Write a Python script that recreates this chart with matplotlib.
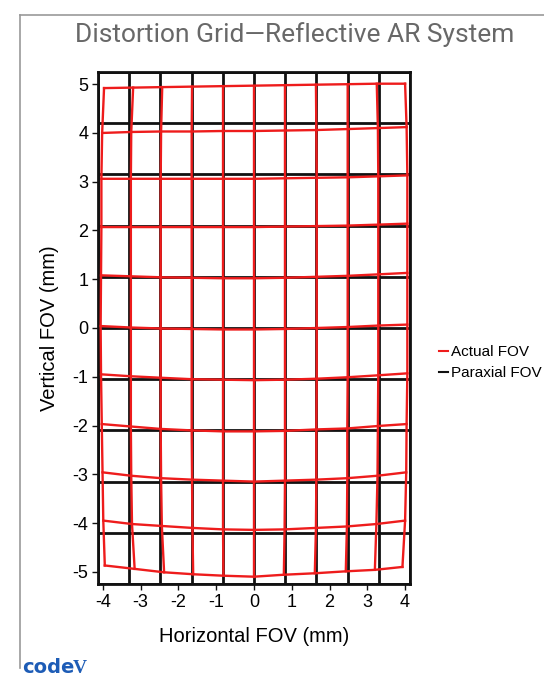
import numpy as np
import matplotlib.pyplot as plt
from matplotlib.lines import Line2D

# paraxial (ideal) grid positions, mm
paraxial_x = [-4.13, -3.30, -2.48, -1.65, -0.83, 0.0, 0.83, 1.65, 2.48, 3.30, 4.13]
paraxial_y = [5.25, 4.20, 3.15, 2.10, 1.05, 0.0, -1.05, -2.10, -3.15, -4.20, -5.25]

# actual (distorted) grid, rows from top to bottom, columns from left to right
actual_x = [
    [-3.97, -3.20, -2.43, -1.64, -0.82, 0.0, 0.82, 1.64, 2.48, 3.25, 4.00],
    [-4.02, -3.25, -2.46, -1.65, -0.82, 0.0, 0.82, 1.65, 2.48, 3.28, 4.04],
    [-4.04, -3.26, -2.47, -1.65, -0.82, 0.0, 0.82, 1.66, 2.48, 3.29, 4.06],
    [-4.04, -3.26, -2.47, -1.65, -0.82, 0.0, 0.82, 1.66, 2.48, 3.29, 4.06],
    [-4.05, -3.26, -2.47, -1.65, -0.82, 0.0, 0.82, 1.66, 2.48, 3.29, 4.06],
    [-4.06, -3.26, -2.47, -1.65, -0.82, 0.0, 0.82, 1.66, 2.48, 3.29, 4.06],
    [-4.05, -3.26, -2.47, -1.65, -0.82, 0.0, 0.82, 1.66, 2.48, 3.29, 4.06],
    [-4.03, -3.26, -2.47, -1.65, -0.82, 0.0, 0.82, 1.65, 2.47, 3.28, 4.04],
    [-4.01, -3.25, -2.46, -1.64, -0.82, 0.0, 0.82, 1.65, 2.47, 3.27, 4.03],
    [-3.99, -3.23, -2.44, -1.63, -0.82, 0.0, 0.81, 1.64, 2.46, 3.24, 4.00],
    [-3.95, -3.16, -2.38, -1.61, -0.81, 0.0, 0.79, 1.61, 2.43, 3.20, 3.93],
]
actual_y = [
    [4.92, 4.93, 4.94, 4.95, 4.96, 4.97, 4.98, 4.99, 5.00, 5.01, 5.01],
    [4.00, 4.02, 4.03, 4.03, 4.04, 4.04, 4.05, 4.06, 4.08, 4.10, 4.12],
    [3.06, 3.06, 3.06, 3.06, 3.06, 3.06, 3.07, 3.08, 3.09, 3.11, 3.13],
    [2.07, 2.07, 2.07, 2.07, 2.07, 2.07, 2.08, 2.09, 2.10, 2.12, 2.14],
    [1.08, 1.06, 1.04, 1.03, 1.02, 1.02, 1.03, 1.05, 1.07, 1.10, 1.13],
    [0.04, 0.01, -0.01, -0.02, -0.03, -0.03, -0.02, 0.00, 0.02, 0.05, 0.07],
    [-0.95, -0.99, -1.02, -1.05, -1.06, -1.07, -1.06, -1.04, -1.01, -0.97, -0.93],
    [-1.97, -2.02, -2.07, -2.10, -2.12, -2.12, -2.11, -2.08, -2.06, -2.01, -1.97],
    [-2.96, -3.03, -3.08, -3.11, -3.13, -3.15, -3.13, -3.11, -3.08, -3.03, -2.96],
    [-3.95, -4.02, -4.06, -4.10, -4.13, -4.14, -4.13, -4.10, -4.07, -4.02, -3.95],
    [-4.87, -4.94, -5.01, -5.05, -5.08, -5.10, -5.06, -5.03, -4.99, -4.96, -4.90],
]

x_ticks = [-4, -3, -2, -1, 0, 1, 2, 3, 4]
y_ticks = [-5, -4, -3, -2, -1, 0, 1, 2, 3, 4, 5]

plt.rcParams['font.family'] = ['Liberation Sans', 'DejaVu Sans']
plt.rcParams['axes.unicode_minus'] = False

fig = plt.figure(figsize=(5.44, 6.81), dpi=100)
ax = fig.add_axes([98 / 544, 1 - 584 / 681, 312 / 544, 512 / 681])

black = '#111111'
red = '#ee1c1c'

# paraxial grid
for x in paraxial_x:
    ax.plot([x, x], [paraxial_y[-1], paraxial_y[0]], color=black, lw=2.0, zorder=2)
for y in paraxial_y:
    ax.plot([paraxial_x[0], paraxial_x[-1]], [y, y], color=black, lw=2.0, zorder=2)

# actual grid
ax_arr = np.array(actual_x)
ay_arr = np.array(actual_y)
for i in range(ax_arr.shape[0]):
    ax.plot(ax_arr[i], ay_arr[i], color=red, lw=1.7, zorder=3)
for j in range(ax_arr.shape[1]):
    ax.plot(ax_arr[:, j], ay_arr[:, j], color=red, lw=1.7, zorder=3)

ax.set_xlim(paraxial_x[0], paraxial_x[-1])
ax.set_ylim(paraxial_y[-1], paraxial_y[0])
ax.set_xticks(x_ticks)
ax.set_yticks(y_ticks)
ax.tick_params(labelsize=13, length=4, width=1, color=black, pad=3)
for s in ax.spines.values():
    s.set_linewidth(2.0)
    s.set_color(black)

ax.set_xlabel('Horizontal FOV (mm)', fontsize=14.5, labelpad=12)
ax.set_ylabel('Vertical FOV (mm)', fontsize=14.5, labelpad=10)

fig.text(0.541, 0.950, 'Distortion Grid\u2014Reflective AR System', ha='center', va='center',
         fontsize=19, color='#686868', family=['Roboto', 'DejaVu Sans'])

handles = [Line2D([], [], color=red, lw=1.5), Line2D([], [], color=black, lw=1.5)]
fig.legend(handles, ['Actual FOV', 'Paraxial FOV'], loc='upper left',
           bbox_to_anchor=(433 / 544, 1 - 339 / 681), frameon=False, fontsize=11,
           handlelength=0.6, handletextpad=0.2, labelspacing=0.45, borderaxespad=0)

# outer frame
fig.add_artist(Line2D([20 / 544, 20 / 544], [1 - 668 / 681, 1 - 15 / 681], color='#999999', lw=1.2))
fig.add_artist(Line2D([20 / 544, 1.0], [1 - 15 / 681, 1 - 15 / 681], color='#999999', lw=1.2))

# logo
fig.text(22 / 544, 1 - 673 / 681, 'code', fontsize=14, fontweight='bold', color='#1d5cb6',
         family=['DejaVu Sans'], va='baseline')
fig.text(73 / 544, 1 - 673 / 681, 'V', fontsize=14, fontweight='bold', color='#1d5cb6',
         family=['Liberation Serif'], va='baseline')

fig.savefig('out.png', dpi=100)
